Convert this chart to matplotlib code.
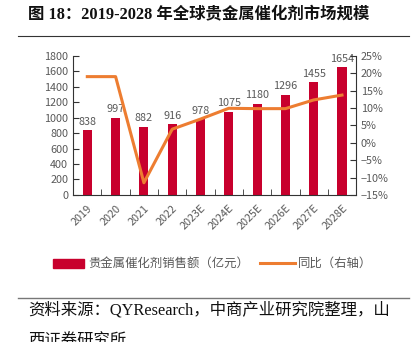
import numpy as np
import matplotlib.pyplot as plt
from matplotlib.ticker import FuncFormatter

plt.rcParams['font.family'] = ['Noto Sans CJK SC', 'DejaVu Sans']
plt.rcParams['axes.unicode_minus'] = True

years = ['2019', '2020', '2021', '2022', '2023E', '2024E', '2025E', '2026E', '2027E', '2028E']
sales = [838, 997, 882, 916, 978, 1075, 1180, 1296, 1455, 1654]
growth = [19.0, 19.0, -11.5, 3.9, 6.8, 9.9, 9.8, 9.8, 12.3, 13.7]

bar_color = '#C8002D'
line_color = '#ED7D31'
text_gray = '#595959'
serif_cjk = ['Liberation Serif', 'Noto Sans CJK SC']

fig = plt.figure(figsize=(4.18, 3.42), dpi=100)

fig.text(0.067, 0.955, '图 18：2019-2028 年全球贵金属催化剂市场规模',
         fontsize=11.8, fontweight='bold', va='center', ha='left', color='#111111',
         family=serif_cjk)
fig.add_artist(plt.Line2D([0.043, 0.978], [0.895, 0.895], color='#333333', lw=0.8))

ax = fig.add_axes([0.175, 0.43, 0.677, 0.407])
x = np.arange(len(years))
ax.bar(x, sales, width=0.32, color=bar_color, zorder=2)
for xi, v in zip(x, sales):
    ax.text(xi, v + 45, str(v), ha='center', va='bottom', fontsize=7.8, color=text_gray)

ax.set_xlim(-0.5, len(years) - 0.5)
ax.set_ylim(0, 1800)
ax.set_yticks(np.arange(0, 1801, 200))
ax.set_xticks(x)
ax.set_xticklabels(years, rotation=45, ha='right', rotation_mode='anchor')
ax.set_xticks(np.arange(0.5, len(years) - 1, 1), minor=True)
ax.tick_params(axis='x', which='major', length=0, labelsize=7.8, labelcolor=text_gray, pad=6)
ax.tick_params(axis='x', which='minor', direction='in', length=4, color='#333333')
ax.tick_params(axis='y', direction='in', length=4, labelsize=7.8, labelcolor=text_gray, color='#333333')
ax.spines['top'].set_visible(False)
ax.spines['right'].set_visible(False)
for s in ['left', 'bottom']:
    ax.spines[s].set_color('#333333')

ax2 = ax.twinx()
ax2.plot(x, growth, color=line_color, lw=2.2, zorder=3)
ax2.set_ylim(-15, 25)
ax2.set_yticks(np.arange(-15, 26, 5))
ax2.yaxis.set_major_formatter(FuncFormatter(lambda v, p: f'{v:.0f}%'.replace('-', '\u2212')))
ax2.tick_params(axis='y', direction='in', length=4, labelsize=7.8, labelcolor=text_gray, color='#333333')
ax2.spines['top'].set_visible(False)
ax2.spines['left'].set_visible(False)
ax2.spines['bottom'].set_visible(False)
ax2.spines['right'].set_color('#333333')

# legend row
fig.patches.append(plt.Rectangle((0.127, 0.216), 0.074, 0.028, transform=fig.transFigure,
                                 color=bar_color))
fig.text(0.21, 0.23, '贵金属催化剂销售额（亿元）', fontsize=8.9, color=text_gray, va='center')
fig.add_artist(plt.Line2D([0.622, 0.706], [0.23, 0.23], color=line_color, lw=2.2))
fig.text(0.713, 0.23, '同比（右轴）', fontsize=8.9, color=text_gray, va='center')

fig.add_artist(plt.Line2D([0.043, 0.978], [0.13, 0.13], color='#777777', lw=1.0))
fig.text(0.067, 0.092, '资料来源：QYResearch，中商产业研究院整理，山',
         fontsize=11.8, color='#111111', va='center', ha='left', family=serif_cjk)
fig.text(0.067, 0.0, '西证券研究所', fontsize=11.8, color='#111111', va='center', ha='left',
         family=serif_cjk)

fig.savefig('out.png', dpi=100)
